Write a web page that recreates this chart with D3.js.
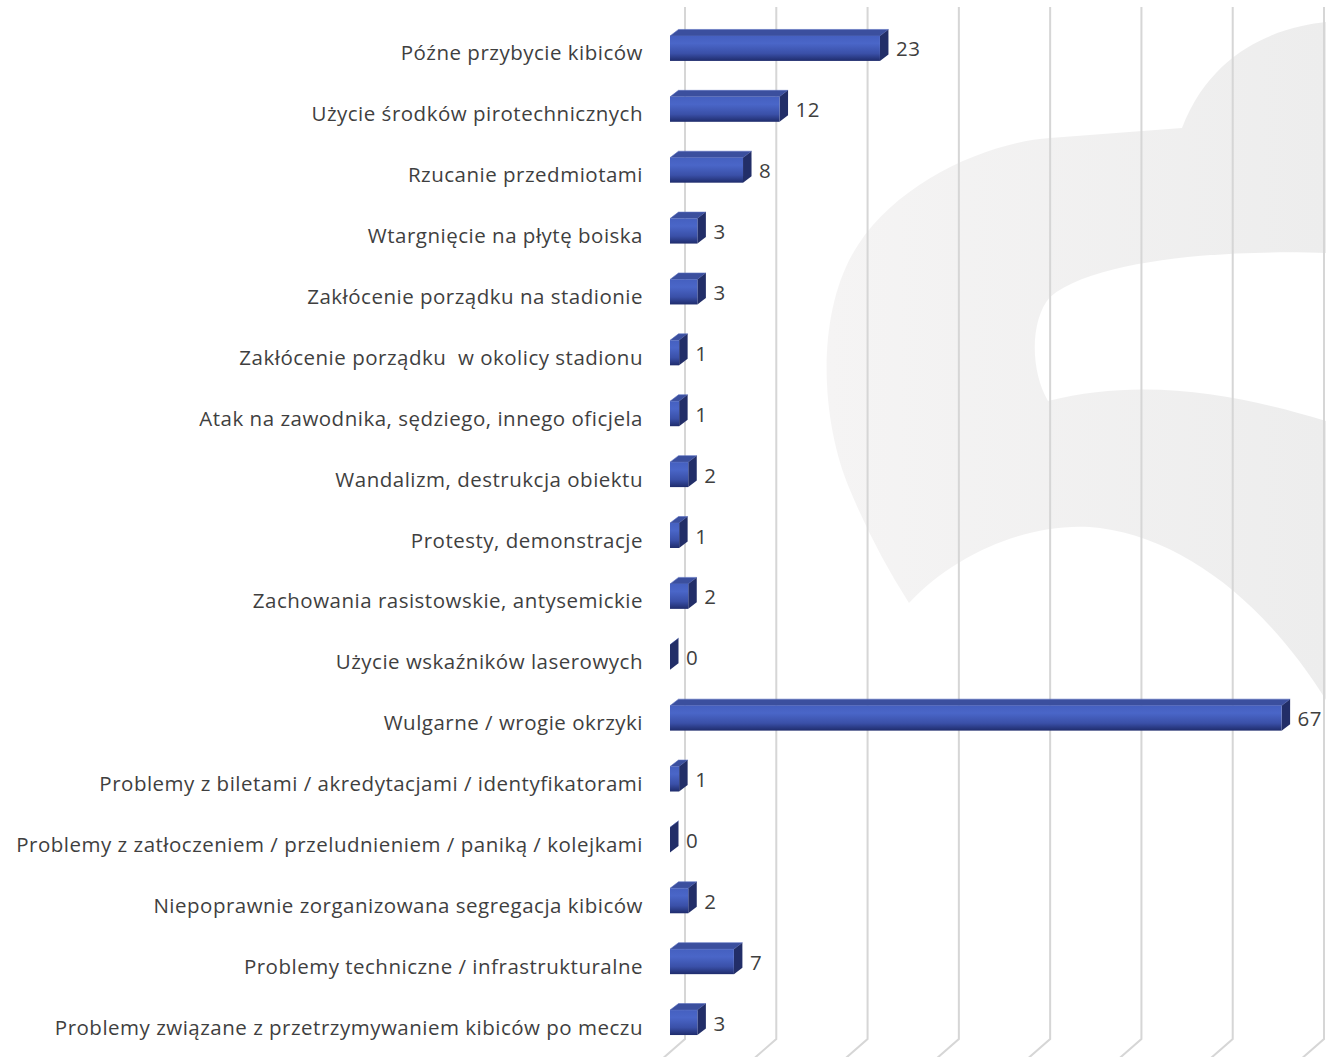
<!DOCTYPE html>
<html>
<head>
<meta charset="utf-8">
<script src="https://cdn.jsdelivr.net/npm/d3@7"></script>
<style>
  body { margin: 0; background: #fff; }
  svg { display: block; }
  text { font-family: "Open Sans", sans-serif; fill: #3f3f3f; white-space: pre; letter-spacing: 0.5px; }
</style>
</head>
<body>
<div id="chart"></div>
<script>
// categories, top to bottom
var categories = [
  "Późne przybycie kibiców",
  "Użycie środków pirotechnicznych",
  "Rzucanie przedmiotami",
  "Wtargnięcie na płytę boiska",
  "Zakłócenie porządku na stadionie",
  "Zakłócenie porządku  w okolicy stadionu",
  "Atak na zawodnika, sędziego, innego oficjela",
  "Wandalizm, destrukcja obiektu",
  "Protesty, demonstracje",
  "Zachowania rasistowskie, antysemickie",
  "Użycie wskaźników laserowych",
  "Wulgarne / wrogie okrzyki",
  "Problemy z biletami / akredytacjami / identyfikatorami",
  "Problemy z zatłoczeniem / przeludnieniem / paniką / kolejkami",
  "Niepoprawnie zorganizowana segregacja kibiców",
  "Problemy techniczne / infrastrukturalne",
  "Problemy związane z przetrzymywaniem kibiców po meczu"
];
var values = [23, 12, 8, 3, 3, 1, 1, 2, 1, 2, 0, 67, 1, 0, 2, 7, 3];
var gridTicks = [0, 10, 20, 30, 40, 50, 60, 70];

var width = 1326, height = 1057;
var depthX = 8.5, depthY = 6.5;   // bar depth
var wallX = 15;                   // gridlines sit on the back wall

var svg = d3.select("#chart").append("svg")
    .attr("width", width)
    .attr("height", height);

var defs = svg.append("defs");

var front = defs.append("linearGradient").attr("id", "front")
    .attr("x1", 0).attr("y1", 0).attr("x2", 0).attr("y2", 1);
front.append("stop").attr("offset", "0%").attr("stop-color", "#4560c0");
front.append("stop").attr("offset", "30%").attr("stop-color", "#4a66c8");
front.append("stop").attr("offset", "70%").attr("stop-color", "#3a50a8");
front.append("stop").attr("offset", "100%").attr("stop-color", "#1f2c6c");

var wm = defs.append("linearGradient").attr("id", "wm")
    .attr("x1", 0).attr("y1", 0).attr("x2", 1).attr("y2", 0);
wm.append("stop").attr("offset", "0%").attr("stop-color", "#f5f4f4");
wm.append("stop").attr("offset", "100%").attr("stop-color", "#ededed");

var x = d3.scaleLinear().domain([0, 70]).range([670, 1309]);
var y = d3.scaleBand().domain(categories).range([18, 1053])
    .paddingInner(0.59).paddingOuter(0.295);
var bh = y.bandwidth();

// faint logo watermark in the background
svg.append("path")
    .attr("d", "M1326,22 C1290,26 1215,42 1182,128 L1050,138 " +
      "C990,142 900,180 858,245 C815,310 820,420 850,490 Q875,550 909,603 " +
      "C960,548 1040,520 1100,528 C1190,540 1270,610 1326,700 L1326,421 " +
      "C1250,398 1150,375 1048,401 C1030,370 1030,320 1050,297 " +
      "C1100,255 1250,250 1326,253 Z")
    .attr("fill", "url(#wm)");

// gridlines on the back wall, bending onto the floor
svg.append("g").selectAll("path")
    .data(gridTicks)
    .enter().append("path")
    .attr("d", function (d) {
        var gx = x(d) + wallX;
        return "M" + gx + ",7 L" + gx + ",1039 L" + (gx - 24) + ",1060";
    })
    .attr("fill", "none")
    .attr("stroke", "#d6d6d6")
    .attr("stroke-width", 2);

// bars
var bars = svg.append("g").selectAll("g")
    .data(values)
    .enter().append("g");

// top face
bars.append("path")
    .attr("d", function (d, i) {
        var x0 = x(0), x1 = x(d), y0 = y(categories[i]);
        return "M" + x0 + "," + y0 + " L" + (x0 + depthX) + "," + (y0 - depthY) +
            " L" + (x1 + depthX) + "," + (y0 - depthY) + " L" + x1 + "," + y0 + "Z";
    })
    .attr("fill", "#3b4f9e")
    .attr("stroke", "#5a6fc0")
    .attr("stroke-width", 0.6);

// side face
bars.append("path")
    .attr("d", function (d, i) {
        var x1 = x(d), y0 = y(categories[i]);
        return "M" + x1 + "," + y0 + " L" + (x1 + depthX) + "," + (y0 - depthY) +
            " L" + (x1 + depthX) + "," + (y0 + bh - depthY) + " L" + x1 + "," + (y0 + bh) + "Z";
    })
    .attr("fill", "#222e68");

// front face
bars.append("rect")
    .attr("x", x(0))
    .attr("y", function (d, i) { return y(categories[i]); })
    .attr("width", function (d) { return x(d) - x(0); })
    .attr("height", bh)
    .attr("fill", "url(#front)");

// value labels
svg.append("g").selectAll("text")
    .data(values)
    .enter().append("text")
    .attr("x", function (d) { return x(d) + 16; })
    .attr("y", function (d, i) { return y(categories[i]) + bh / 2 + 8; })
    .attr("font-size", 20.5)
    .text(function (d) { return d; });

// category labels
svg.append("g").selectAll("text")
    .data(categories)
    .enter().append("text")
    .attr("x", 643)
    .attr("y", function (d) { return y(d) + bh / 2 + 12; })
    .attr("text-anchor", "end")
    .attr("font-size", 20.5)
    .text(function (d) { return d; });
</script>
</body>
</html>
